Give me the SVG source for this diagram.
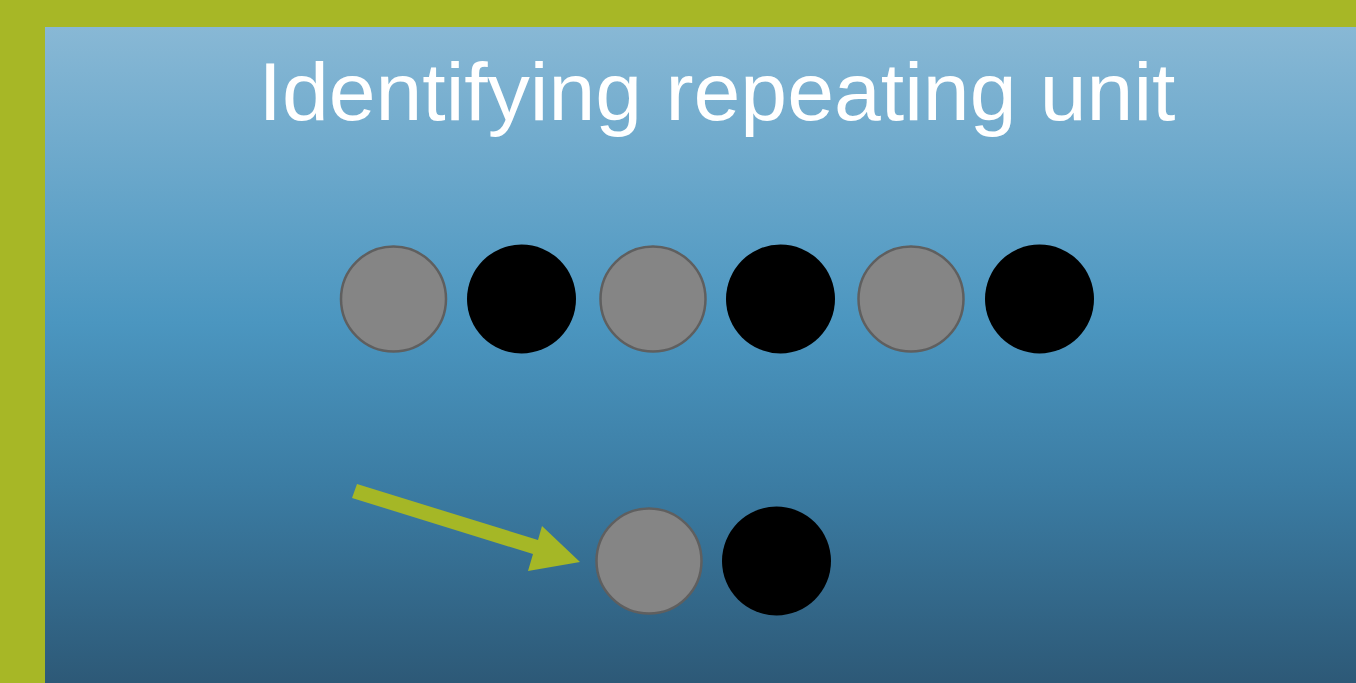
<svg xmlns="http://www.w3.org/2000/svg" width="1356" height="683" viewBox="0 0 1356 683">
  <defs>
    <linearGradient id="bg" x1="0" y1="0" x2="0" y2="1">
      <stop offset="0" stop-color="#88b8d5"/>
      <stop offset="0.45" stop-color="#4b96c0"/>
      <stop offset="0.7" stop-color="#3b7ca3"/>
      <stop offset="1" stop-color="#2d5977"/>
    </linearGradient>
    <style>
      .gray { fill: #858585; stroke: #5f5f5f; stroke-width: 2.5; }
      .black { fill: #000000; }
      .title { font-family: "Liberation Sans", Arial, sans-serif; font-size: 82px; fill: #ffffff; }
      .arrow { fill: #a5b726; }
    </style>
  </defs>

  <!-- frame and background -->
  <rect x="0" y="0" width="1356" height="683" fill="#a7b726"/>
  <rect x="45" y="27" width="1311" height="656" fill="url(#bg)"/>

  <text class="title" x="717" y="120" text-anchor="middle" textLength="917" lengthAdjust="spacingAndGlyphs">Identifying repeating unit</text>

  <!-- chain of alternating units -->
  <g id="chain">
    <circle class="gray" cx="393.5" cy="299" r="52.5"/>
    <circle class="black" cx="521.5" cy="299" r="54.5"/>
    <circle class="gray" cx="653" cy="299" r="52.5"/>
    <circle class="black" cx="780.5" cy="299" r="54.5"/>
    <circle class="gray" cx="911" cy="299" r="52.5"/>
    <circle class="black" cx="1039.5" cy="299" r="54.5"/>
  </g>

  <!-- single repeating unit -->
  <g id="unit">
    <circle class="gray" cx="649" cy="561" r="52.5"/>
    <circle class="black" cx="776.5" cy="561" r="54.5"/>
  </g>

  <g id="connectors">
    <polygon class="arrow" points="352,498 533,554 528,571 580,562 542,526 538,540 357,484"/>
  </g>
</svg>
